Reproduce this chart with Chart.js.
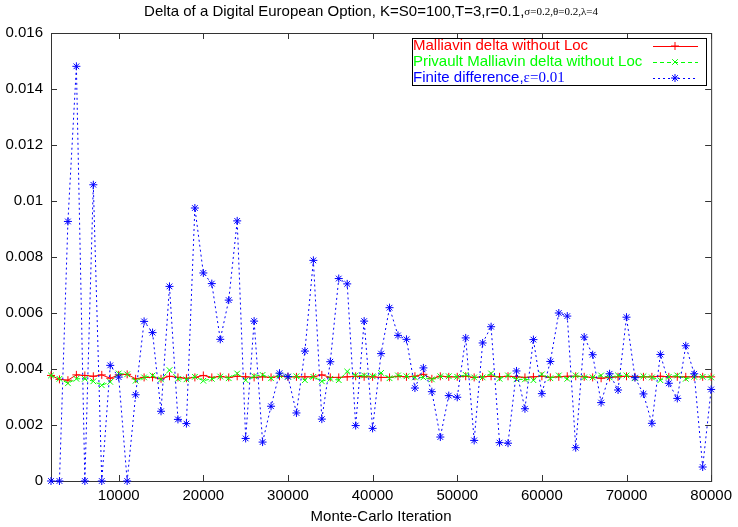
<!DOCTYPE html>
<html>
<head>
<meta charset="utf-8">
<script src="https://cdn.jsdelivr.net/npm/chart.js@4.4.1/dist/chart.umd.min.js"></script>
<style>
    html, body { margin: 0; padding: 0; background: #fff; }
    #wrap { width: 738px; height: 527px; }
</style>
</head>
<body>
<div id="wrap"><canvas id="graphCanvas"></canvas></div>
<script>
// dati
var chartTitle = "Delta of a Digital European Option, K=S0=100,T=3,r=0.1,σ=0.2,θ=0.2,λ=4";
var xTitle = "Monte-Carlo Iteration";
var seriesNames = ["Malliavin delta without Loc", "Privault Malliavin delta without Loc", "Finite difference,ε=0.01"];

var iterations = [2000, 3000, 4000, 5000, 6000, 7000, 8000, 9000, 10000,
    11000, 12000, 13000, 14000, 15000, 16000, 17000, 18000, 19000, 20000,
    21000, 22000, 23000, 24000, 25000, 26000, 27000, 28000, 29000, 30000,
    31000, 32000, 33000, 34000, 35000, 36000, 37000, 38000, 39000, 40000,
    41000, 42000, 43000, 44000, 45000, 46000, 47000, 48000, 49000, 50000,
    51000, 52000, 53000, 54000, 55000, 56000, 57000, 58000, 59000, 60000,
    61000, 62000, 63000, 64000, 65000, 66000, 67000, 68000, 69000, 70000,
    71000, 72000, 73000, 74000, 75000, 76000, 77000, 78000, 79000, 80000];

var malliavin = [0.00377, 0.00363, 0.00360, 0.00379, 0.00377, 0.00374, 0.00379, 0.00367, 0.00379,
    0.00381, 0.00365, 0.00370, 0.00370, 0.00365, 0.00374, 0.00370, 0.00367, 0.00370, 0.00377,
    0.00370, 0.00373, 0.00370, 0.00374, 0.00372, 0.00370, 0.00372, 0.00370, 0.00374, 0.00372,
    0.00372, 0.00372, 0.00372, 0.00379, 0.00370, 0.00370, 0.00372, 0.00374, 0.00372, 0.00372,
    0.00370, 0.00370, 0.00374, 0.00372, 0.00374, 0.00381, 0.00365, 0.00374, 0.00372, 0.00372,
    0.00374, 0.00370, 0.00372, 0.00374, 0.00372, 0.00374, 0.00372, 0.00370, 0.00372, 0.00374,
    0.00370, 0.00372, 0.00374, 0.00374, 0.00372, 0.00370, 0.00367, 0.00370, 0.00372, 0.00374,
    0.00372, 0.00372, 0.00372, 0.00374, 0.00372, 0.00372, 0.00372, 0.00372, 0.00372, 0.00372];

var privault = [0.00377, 0.00365, 0.00349, 0.00365, 0.00365, 0.00356, 0.00342, 0.00354, 0.00384,
    0.00381, 0.00358, 0.00370, 0.00377, 0.00363, 0.00396, 0.00365, 0.00363, 0.00372, 0.00358,
    0.00365, 0.00373, 0.00367, 0.00384, 0.00360, 0.00374, 0.00379, 0.00367, 0.00377, 0.00372,
    0.00374, 0.00360, 0.00372, 0.00356, 0.00365, 0.00360, 0.00391, 0.00377, 0.00377, 0.00374,
    0.00386, 0.00367, 0.00377, 0.00374, 0.00370, 0.00370, 0.00363, 0.00374, 0.00374, 0.00372,
    0.00379, 0.00370, 0.00370, 0.00384, 0.00365, 0.00377, 0.00363, 0.00363, 0.00360, 0.00381,
    0.00367, 0.00377, 0.00365, 0.00377, 0.00370, 0.00370, 0.00377, 0.00370, 0.00377, 0.00377,
    0.00367, 0.00374, 0.00370, 0.00360, 0.00372, 0.00377, 0.00365, 0.00372, 0.00372, 0.00370];

var finiteDiff = [0, 0, 0.00927, 0.01481, 0, 0.01058, 0, 0.00413, 0.00371,
    0, 0.00308, 0.00570, 0.00530, 0.00249, 0.00695, 0.00220, 0.00205, 0.00975, 0.00743,
    0.00705, 0.00506, 0.00646, 0.00929, 0.00152, 0.00571, 0.00139, 0.00267, 0.00385, 0.00373,
    0.00243, 0.00464, 0.00788, 0.00221, 0.00426, 0.00723, 0.00704, 0.00198, 0.00571, 0.00188,
    0.00455, 0.00619, 0.00520, 0.00506, 0.00332, 0.00404, 0.00319, 0.00157, 0.00305, 0.00299,
    0.00511, 0.00145, 0.00493, 0.00551, 0.00137, 0.00135, 0.00393, 0.00258, 0.00505, 0.00312,
    0.00427, 0.00600, 0.00589, 0.00119, 0.00514, 0.00451, 0.00280, 0.00383, 0.00325, 0.00585,
    0.00369, 0.00311, 0.00206, 0.00452, 0.00349, 0.00295, 0.00483, 0.00383, 0.00050, 0.00327];

var xTicks = [10000, 20000, 30000, 40000, 50000, 60000, 70000, 80000];
var yTicks = [0, 0.002, 0.004, 0.006, 0.008, 0.01, 0.012, 0.014, 0.016];

var sansFont = "'Liberation Sans', Arial, sans-serif";
var serifFont = "'Liberation Serif', 'Times New Roman', serif";

// coppie x/y per ogni serie
function toPoints(values) {
    return values.map(function (v, i) {
        return { x: iterations[i], y: v };
    });
}

// testo con le lettere greche (e il resto) in font serif, come gnuplot
function drawMixed(ctx, text, x, y, size, serifSize, align) {
    var idx = text.search(/[\u0370-\u03ff]/);
    var a = idx < 0 ? text : text.substring(0, idx);
    var b = idx < 0 ? "" : text.substring(idx);
    ctx.font = size + "px " + sansFont;
    var wa = ctx.measureText(a).width;
    ctx.font = serifSize + "px " + serifFont;
    var wb = ctx.measureText(b).width;
    var start = align === "center" ? x - (wa + wb) / 2 : x;
    ctx.textAlign = "left";
    ctx.font = size + "px " + sansFont;
    ctx.fillText(a, start, y);
    ctx.font = serifSize + "px " + serifFont;
    ctx.fillText(b, start + wa, y);
}

// cornice con tacche verso l'interno, su tutti i lati
var framePlugin = {
    id: 'frame',
    beforeDatasetsDraw: function (chart) {
        var ctx = chart.ctx, a = chart.chartArea;
        var xs = chart.scales.x, ys = chart.scales.y;
        ctx.save();
        ctx.strokeStyle = '#333';
        ctx.lineWidth = 1;
        ctx.strokeRect(a.left + 0.5, a.top + 0.5, a.right - a.left, a.bottom - a.top);
        ctx.beginPath();
        xTicks.forEach(function (v) {
            var px = Math.round(xs.getPixelForValue(v)) + 0.5;
            ctx.moveTo(px, a.bottom); ctx.lineTo(px, a.bottom - 6);
            ctx.moveTo(px, a.top); ctx.lineTo(px, a.top + 6);
        });
        yTicks.forEach(function (v) {
            var py = Math.round(ys.getPixelForValue(v)) + 0.5;
            ctx.moveTo(a.left, py); ctx.lineTo(a.left + 6, py);
            ctx.moveTo(a.right, py); ctx.lineTo(a.right - 6, py);
        });
        ctx.stroke();
        ctx.restore();
    }
};

// titolo e legenda disegnati a mano
var textPlugin = {
    id: 'texts',
    afterDraw: function (chart) {
        var ctx = chart.ctx;
        ctx.save();
        ctx.fillStyle = '#000';
        ctx.textBaseline = 'middle';
        drawMixed(ctx, chartTitle, 371, 12, 15, 11, "center");

        // legenda
        var box = { left: 412, top: 38, right: 706, bottom: 85 };
        ctx.strokeStyle = '#000';
        ctx.lineWidth = 1;
        ctx.strokeRect(box.left + 0.5, box.top + 0.5, box.right - box.left, box.bottom - box.top);
        chart.data.datasets.forEach(function (ds, i) {
            var y = 46 + i * 16;
            ctx.fillStyle = ds.borderColor;
            drawMixed(ctx, ds.label, 413, y, 15, 15, "left");
            ctx.strokeStyle = ds.borderColor;
            ctx.setLineDash(ds.borderDash || []);
            ctx.beginPath();
            ctx.moveTo(653, y + 0.5);
            ctx.lineTo(698, y + 0.5);
            ctx.stroke();
            ctx.setLineDash([]);
            Chart.helpers.drawPoint(ctx, { pointStyle: ds.pointStyle, radius: 4, rotation: 0, borderWidth: 1 }, 675, y);
        });
        ctx.restore();
    }
};

var graphTarget = document.getElementById("graphCanvas");
var lineGraph = new Chart(graphTarget, {
    type: 'line',
    data: {
        datasets: [{
            label: seriesNames[0],
            data: toPoints(malliavin),
            borderColor: '#ff0000',
            pointBorderColor: '#ff0000',
            pointBackgroundColor: '#ff0000',
            pointStyle: 'cross',
            order: 3
        }, {
            label: seriesNames[1],
            data: toPoints(privault),
            borderColor: '#00ff00',
            pointBorderColor: '#00ff00',
            pointBackgroundColor: '#00ff00',
            borderDash: [4, 3],
            pointStyle: 'crossRot',
            order: 2
        }, {
            label: seriesNames[2],
            data: toPoints(finiteDiff),
            borderColor: '#0000ff',
            pointBorderColor: '#0000ff',
            pointBackgroundColor: '#0000ff',
            borderDash: [2, 3],
            pointStyle: 'star',
            order: 1
        }]
    },
    options: {
        responsive: true,
        maintainAspectRatio: false,
        animation: false,
        layout: { padding: { top: 33, right: 24, left: 0, bottom: 0 } },
        elements: {
            line: { borderWidth: 1, tension: 0, fill: false },
            point: { radius: 4, borderWidth: 1, hoverRadius: 4 }
        },
        datasets: { line: { clip: false } },
        plugins: {
            legend: { display: false },
            title: { display: false },
            tooltip: { enabled: false }
        },
        scales: {
            x: {
                type: 'linear',
                min: 2000,
                max: 80000,
                grid: { display: false, drawTicks: false },
                border: { display: false },
                afterBuildTicks: function (axis) {
                    axis.ticks = xTicks.map(function (v) { return { value: v }; });
                },
                afterFit: function (axis) { axis.height = 46; },
                ticks: {
                    autoSkip: false,
                    maxRotation: 0,
                    padding: 6,
                    color: '#000',
                    font: { family: sansFont, size: 15 },
                    callback: function (v) { return String(v); }
                },
                title: {
                    display: true,
                    text: xTitle,
                    color: '#000',
                    font: { family: sansFont, size: 15 },
                    padding: { top: 0, bottom: 1 }
                }
            },
            y: {
                min: 0,
                max: 0.016,
                grid: { display: false, drawTicks: false },
                border: { display: false },
                afterBuildTicks: function (axis) {
                    axis.ticks = yTicks.map(function (v) { return { value: v }; });
                },
                afterFit: function (axis) { axis.width = 51; },
                ticks: {
                    padding: 8,
                    color: '#000',
                    font: { family: sansFont, size: 15 },
                    callback: function (v) { return String(+v.toFixed(3)); }
                }
            }
        }
    },
    plugins: [framePlugin, textPlugin]
});
</script>
</body>
</html>
